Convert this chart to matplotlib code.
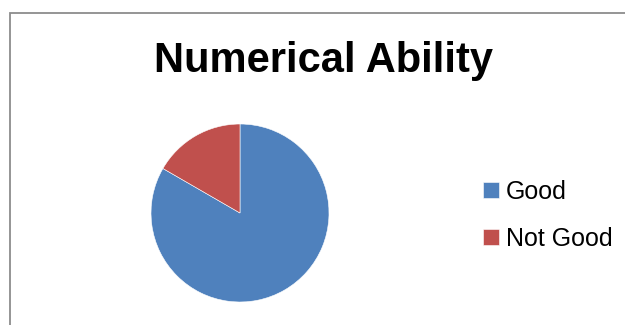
import matplotlib.pyplot as plt
from matplotlib.patches import Rectangle

# data
labels = ["Good", "Not Good"]
counts = [25, 5]
colors = ["#4F81BD", "#C0504D"]
title = "Numerical Ability"

plt.rcParams['font.family'] = ['Liberation Sans', 'DejaVu Sans']

W, H = 625, 325
fig = plt.figure(figsize=(W / 100, H / 100), dpi=100)
fig.patch.set_facecolor("white")

# chart border (only top/left visible in crop)
fig.patches.append(Rectangle((9.5 / W, -0.1), 1.2, 1 - 12.5 / H + 0.1,
                             transform=fig.transFigure, fill=False,
                             edgecolor="#8c8c8c", linewidth=1.3))

fig.text(323 / W, 1 - 61 / H, title, ha="center", va="center",
         fontsize=30, fontweight="bold", color="black")

# pie: center (240, 213), radius 89 px
cx, cy, r = 240, 213, 89
ax = fig.add_axes([(cx - r) / W, (H - cy - r) / H, 2 * r / W, 2 * r / H])
wedges, _ = ax.pie(counts, colors=colors, startangle=90, counterclock=False,
                   wedgeprops=dict(edgecolor="white", linewidth=0.4))
ax.set_xlim(-1, 1)
ax.set_ylim(-1, 1)
ax.axis("off")

fig.legend(wedges, labels, loc="upper left",
           bbox_to_anchor=(483 / W, 1 - 180 / H), frameon=False,
           fontsize=18, handlelength=0.62, handleheight=0.62,
           handletextpad=0.3, labelspacing=0.92,
           borderpad=0, borderaxespad=0)

fig.savefig("out.png", dpi=100)
